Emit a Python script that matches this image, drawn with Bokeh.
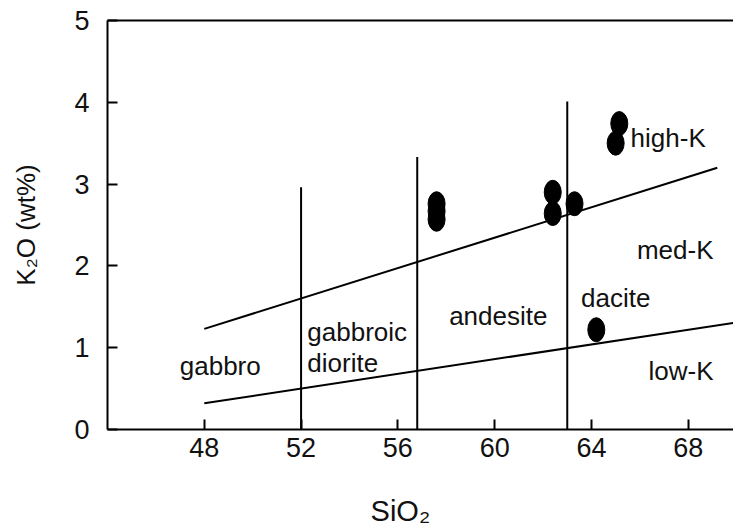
from bokeh.plotting import figure
from bokeh.models import Range1d, FixedTicker, LinearAxis, ColumnDataSource
from bokeh.core.properties import value
from bokeh.embed import file_html
from bokeh.resources import INLINE

FONT = "Liberation Sans"

# --- data ---
x_ticks = [48, 52, 56, 60, 64, 68]
y_ticks = [0, 1, 2, 3, 4, 5]

# sample points (SiO2, K2O)
sio2 = [57.6, 57.6, 57.6, 62.4, 62.4, 63.3, 65.0, 65.15, 64.2]
k2o = [2.76, 2.67, 2.57, 2.90, 2.64, 2.76, 3.50, 3.74, 1.22]

# vertical classification boundaries
div_x = [52, 56.8, 63]
div_top = [2.96, 3.33, 4.01]

# high-K / med-K boundary
hk_x = [48, 69.2]
hk_y = [1.23, 3.20]
# med-K / low-K boundary
lk_x = [48, 70]
lk_y = [0.32, 1.31]

# field labels
lab_text = ["gabbro", "andesite", "dacite", "high-K", "med-K", "low-K"]
lab_x = [48.66, 60.15, 65.0, 67.17, 67.46, 67.7]
lab_y = [0.78, 1.39, 1.61, 3.56, 2.20, 0.71]
lab2_text = ["gabbroic\ndiorite"]
lab2_x = [52.26]
lab2_y = [1.0]

p = figure(width=733, height=531, output_backend="svg", toolbar_location=None,
           x_range=Range1d(44, 69.87), y_range=Range1d(0, 5),
           min_border_left=107, min_border_right=0, min_border_top=20,
           min_border_bottom=102)
p.outline_line_color = None
p.xgrid.visible = False
p.ygrid.visible = False
p.background_fill_color = "white"
p.border_fill_color = "white"

for ax in (p.xaxis[0], p.yaxis[0]):
    ax.axis_line_width = 2
    ax.axis_line_color = "black"
    ax.major_tick_line_width = 2
    ax.major_tick_line_color = "black"
    ax.major_tick_in = 10
    ax.major_tick_out = 0
    ax.minor_tick_line_color = None
    ax.major_label_text_font = FONT
    ax.major_label_text_font_size = "27px"
    ax.major_label_text_color = "#111111"
    ax.axis_label_text_font = FONT
    ax.axis_label_text_font_style = "normal"
    ax.axis_label_text_color = "#111111"

p.xaxis.ticker = FixedTicker(ticks=x_ticks)
p.yaxis.ticker = FixedTicker(ticks=y_ticks)
p.xaxis.major_label_standoff = 8
p.yaxis.major_label_standoff = 18

p.yaxis.axis_label = "K₂O (wt%)"
p.yaxis.axis_label_text_font_size = "26px"
p.yaxis.axis_label_standoff = 30

# label sits left of the frame centre in the reference: trailing no-break spaces shift it
p.xaxis.axis_label = "SiO₂" + "\u00a0" * 5
p.xaxis.axis_label_text_font_size = "29px"
p.xaxis.axis_label_standoff = 35

top = LinearAxis(ticker=FixedTicker(ticks=[]), major_label_text_font_size="0px",
                 major_tick_in=0, major_tick_out=0, minor_tick_line_color=None,
                 major_label_standoff=0, axis_line_width=2, axis_line_color="black")
p.add_layout(top, "above")

# boundaries
p.segment(x0=div_x, y0=[0] * len(div_x), x1=div_x, y1=div_top,
          line_color="black", line_width=2)
p.line(hk_x, hk_y, line_color="black", line_width=2)
p.line(lk_x, lk_y, line_color="black", line_width=2)

# points
p.ellipse(x=sio2, y=k2o, width=17, height=24, width_units="screen",
          height_units="screen", fill_color="black", line_color="black")

# labels
src = ColumnDataSource(dict(x=lab_x, y=lab_y, t=lab_text))
p.text(x="x", y="y", text="t", source=src, text_font=value(FONT),
       text_font_size="26px", text_align="center", text_baseline="middle",
       text_color="#111111")
src2 = ColumnDataSource(dict(x=lab2_x, y=lab2_y, t=lab2_text))
p.text(x="x", y="y", text="t", source=src2, text_font=value(FONT),
       text_font_size="26px", text_align="left", text_baseline="middle",
       text_line_height=1.03, text_color="#111111")

open("out.html", "w").write(file_html(p, INLINE))
